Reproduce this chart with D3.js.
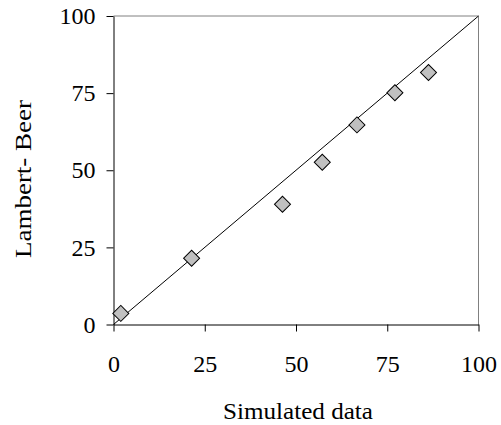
<!DOCTYPE html>
<html>
<head>
<meta charset="utf-8">
<script src="https://cdnjs.cloudflare.com/ajax/libs/d3/7.8.5/d3.min.js"></script>
<style>
  body { margin: 0; background: #fff; }
  text { font-family: "Liberation Serif", "Times New Roman", serif; fill: #000; }
</style>
</head>
<body>
<div class="chart-container"></div>
<script>
//! DATA
const simulated = [2, 21.4, 46.3, 57.2, 66.7, 77.1, 86.3]
const lambertBeer = [3.6, 21.5, 39.0, 52.6, 64.7, 75.1, 81.7]
const ticks = [0, 25, 50, 75, 100]

//! CONSTS
const width = 501
const height = 425
const plotLeft = 113.5, plotRight = 478.5, plotTop = 16, plotBottom = 324.5
const fontSize = 24

const svg =
  d3.select('.chart-container')
    .append('svg')
    .attr('width', width)
    .attr('height', height)

//! SCALES
const xScale = d3.scaleLinear().domain([0, 100]).range([plotLeft, plotRight])
const yScale = d3.scaleLinear().domain([0, 100]).range([plotBottom, plotTop])

// plot frame (top/right)
svg.append('path')
  .attr('d', `M${plotLeft},${plotTop}H${plotRight}V${plotBottom}`)
  .attr('fill', 'none')
  .attr('stroke', '#808080')
  .attr('stroke-width', 1)

//! AXES
const xAxis = d3.axisBottom(xScale).tickValues(ticks).tickSize(7).tickSizeOuter(0).tickPadding(23.5)
const yAxis = d3.axisLeft(yScale).tickValues(ticks).tickSize(7).tickSizeOuter(0).tickPadding(11)

const gx = svg.append('g')
  .attr('transform', `translate(0,${plotBottom})`)
  .call(xAxis)
gx.selectAll('text').attr('font-size', fontSize).style('font-family', '"Liberation Serif", serif')

const gy = svg.append('g')
  .attr('transform', `translate(${plotLeft},0)`)
  .call(yAxis)
gy.selectAll('text').attr('font-size', fontSize).style('font-family', '"Liberation Serif", serif')

svg.selectAll('.domain, .tick line').attr('stroke', '#000')

// 1:1 line
svg.append('line')
  .attr('x1', xScale(0)).attr('y1', yScale(0))
  .attr('x2', xScale(100)).attr('y2', yScale(100))
  .attr('stroke', '#000')
  .attr('stroke-width', 1)

//! POINTS
const diamond = d3.symbol().type(d3.symbolSquare).size(128)
svg.selectAll('.pt')
  .data(simulated.map((x, i) => [x, lambertBeer[i]]))
  .enter()
  .append('path')
  .attr('class', 'pt')
  .attr('d', diamond)
  .attr('transform', d => `translate(${xScale(d[0])},${yScale(d[1])}) rotate(45)`)
  .attr('fill', '#c0c0c0')
  .attr('stroke', '#000')
  .attr('stroke-width', 1)

//! LABELS
svg.append('text')
  .attr('x', 298).attr('y', 419)
  .attr('text-anchor', 'middle')
  .attr('font-size', fontSize)
  .attr('textLength', 150)
  .attr('lengthAdjust', 'spacingAndGlyphs')
  .text('Simulated data')

svg.append('text')
  .attr('transform', 'translate(30.5,179) rotate(-90)')
  .attr('text-anchor', 'middle')
  .attr('font-size', fontSize)
  .attr('textLength', 158)
  .attr('lengthAdjust', 'spacingAndGlyphs')
  .text('Lambert- Beer')
</script>
</body>
</html>
